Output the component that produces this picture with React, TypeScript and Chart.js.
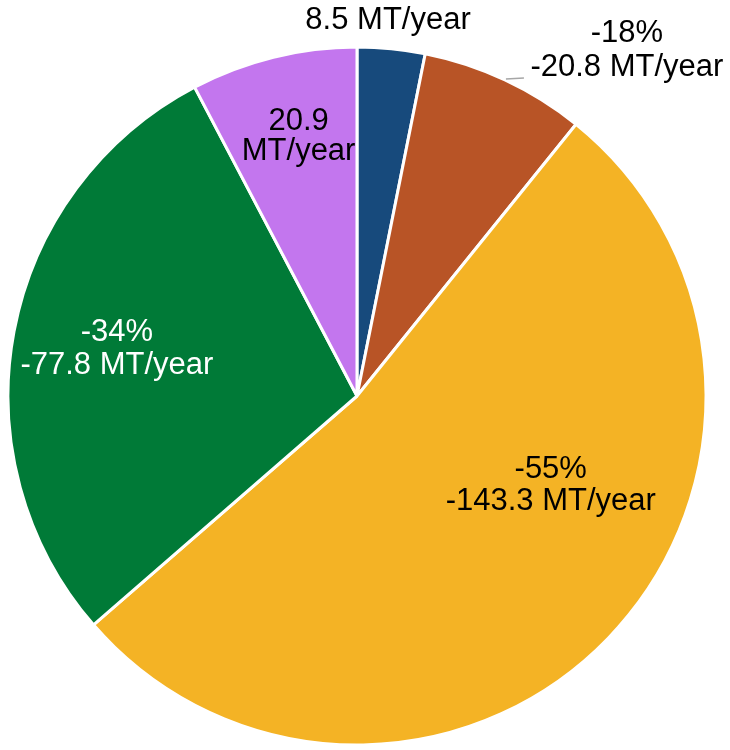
import React, { useEffect, useRef } from "react";
import { Chart, registerables } from "chart.js";

Chart.register(...registerables);

const categories = ["Blue", "Orange", "Yellow", "Green", "Purple"];
const values = [8.5, 20.8, 143.3, 77.8, 20.9];
const colors = ["#174A7C", "#B85426", "#F4B325", "#007A37", "#C376EE"];
const labelLines = [
  ["8.5 MT/year"],
  ["-18%", "-20.8 MT/year"],
  ["-55%", "-143.3 MT/year"],
  ["-34%", "-77.8 MT/year"],
  ["20.9", "MT/year"],
];
const labelColors = ["#000000", "#000000", "#000000", "#FFFFFF", "#000000"];

// placement: radial factor from centre, then pixel nudge
const placements = [
  { f: 1.08, dx: -6, dy: -3, lh: 34 },
  { f: 1.0, dx: 122, dy: -32, lh: 34 },
  { f: 0.6, dx: 43, dy: -58, lh: 32 },
  { f: 0.7, dx: 0, dy: -4, lh: 33 },
  { f: 0.77, dx: 6, dy: -1, lh: 30 },
];

const labelPlugin = {
  id: "sliceLabels",
  afterDatasetsDraw(chart: any) {
    const ctx = chart.ctx;
    const meta = chart.getDatasetMeta(0);
    ctx.save();
    ctx.font = "31px 'Liberation Sans', Arial, sans-serif";
    ctx.textAlign = "center";
    ctx.textBaseline = "alphabetic";
    meta.data.forEach((arc: any, i: number) => {
      const p = arc.getProps(["x", "y", "startAngle", "endAngle", "outerRadius"], true);
      const mid = (p.startAngle + p.endAngle) / 2;
      const pl = placements[i];
      const r = p.outerRadius * pl.f;
      const ax = p.x + Math.cos(mid) * r;
      const ay = p.y + Math.sin(mid) * r;
      if (i === 1) {
        ctx.strokeStyle = "#A6A6A6";
        ctx.lineWidth = 1.5;
        ctx.beginPath();
        ctx.moveTo(ax + 1, ay - 1);
        ctx.lineTo(ax + 19, ay - 2);
        ctx.stroke();
      }
      const cx = ax + pl.dx;
      const cy = ay + pl.dy;
      const lines = labelLines[i];
      const capH = 22;
      const blockH = capH + (lines.length - 1) * pl.lh;
      const firstBase = cy - blockH / 2 + capH;
      ctx.fillStyle = labelColors[i];
      lines.forEach((t, k) => {
        ctx.fillText(t, cx, firstBase + k * pl.lh);
      });
    });
    ctx.restore();
  },
};

export default function App() {
  const ref = useRef<HTMLCanvasElement>(null);
  useEffect(() => {
    if (!ref.current) return;
    const chart = new Chart(ref.current, {
      type: "pie",
      data: {
        labels: categories,
        datasets: [
          {
            data: values,
            backgroundColor: colors,
            borderColor: "#FFFFFF",
            borderWidth: 3,
          },
        ],
      },
      options: {
        responsive: false,
        animation: false,
        layout: { padding: { left: 6.5, top: 45.5, right: 22.5, bottom: 3.5 } },
        plugins: {
          legend: { display: false },
          tooltip: { enabled: false },
        },
      },
      plugins: [labelPlugin],
    });
    return () => chart.destroy();
  }, []);
  return (
    <div style={{ position: "fixed", left: 0, top: 0, width: 730, height: 750, background: "#fff" }}>
      <canvas ref={ref} width={730} height={750} style={{ display: "block" }} />
    </div>
  );
}
